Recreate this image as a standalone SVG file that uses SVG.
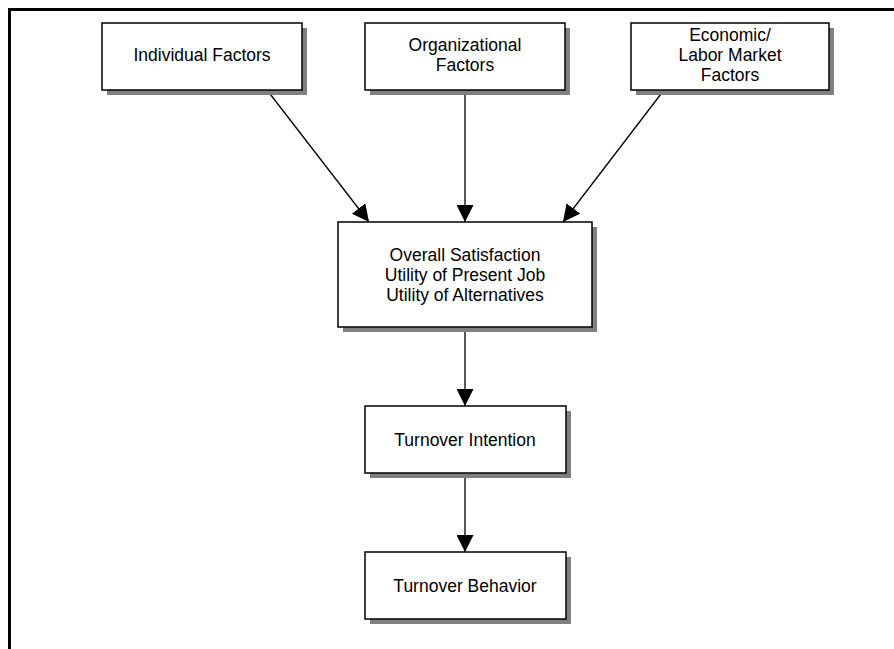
<svg xmlns="http://www.w3.org/2000/svg" width="894" height="649" viewBox="0 0 894 649">
  <style>
    .shadow { fill: #808080; }
    .box { fill: #ffffff; stroke: #000000; stroke-width: 1.5; }
    .label { font-family: "Liberation Sans", Arial, sans-serif; font-size: 17.5px; fill: #000000; text-anchor: middle; }
    .conn { stroke: #000000; stroke-width: 1.3; fill: none; marker-end: url(#arrow); }
    .frame { stroke: #000000; stroke-width: 3; fill: none; }
  </style>
  <defs>
    <marker id="arrow" markerUnits="userSpaceOnUse" markerWidth="17" markerHeight="17" refX="17" refY="8.5" orient="auto">
      <path d="M0,0 L17,8.5 L0,17 Z" fill="#000000"/>
    </marker>
  </defs>
  <rect width="894" height="649" fill="#ffffff"/>
  <path class="frame" d="M9.5,649 L9.5,9.5 L894,9.5"/>

  <g id="connectors">
    <line class="conn" x1="267" y1="90" x2="369" y2="222"/>
    <line class="conn" x1="465" y1="90" x2="465" y2="222"/>
    <line class="conn" x1="664" y1="90" x2="563" y2="222"/>
    <line class="conn" x1="465" y1="327" x2="465" y2="406"/>
    <line class="conn" x1="465" y1="473" x2="465" y2="552"/>
  </g>

  <g id="individual">
    <rect class="shadow" x="107" y="28" width="200" height="67"/>
    <rect class="box" x="102" y="23" width="200" height="67"/>
    <text class="label" x="202" y="61">Individual Factors</text>
  </g>
  <g id="organizational">
    <rect class="shadow" x="370" y="28" width="200" height="67"/>
    <rect class="box" x="365" y="23" width="200" height="67"/>
    <text class="label" x="465" y="51">Organizational</text>
    <text class="label" x="465" y="71">Factors</text>
  </g>
  <g id="economic">
    <rect class="shadow" x="636" y="28" width="198" height="67"/>
    <rect class="box" x="631" y="23" width="198" height="67"/>
    <text class="label" x="730" y="41">Economic/</text>
    <text class="label" x="730" y="61">Labor Market</text>
    <text class="label" x="730" y="81">Factors</text>
  </g>
  <g id="overall">
    <rect class="shadow" x="343" y="227" width="254" height="105"/>
    <rect class="box" x="338" y="222" width="254" height="105"/>
    <text class="label" x="465" y="261">Overall Satisfaction</text>
    <text class="label" x="465" y="281">Utility of Present Job</text>
    <text class="label" x="465" y="301">Utility of Alternatives</text>
  </g>
  <g id="intention">
    <rect class="shadow" x="370" y="411" width="201" height="67"/>
    <rect class="box" x="365" y="406" width="201" height="67"/>
    <text class="label" x="465" y="446">Turnover Intention</text>
  </g>
  <g id="behavior">
    <rect class="shadow" x="370" y="557" width="201" height="67"/>
    <rect class="box" x="365" y="552" width="201" height="67"/>
    <text class="label" x="465" y="592">Turnover Behavior</text>
  </g>
</svg>
